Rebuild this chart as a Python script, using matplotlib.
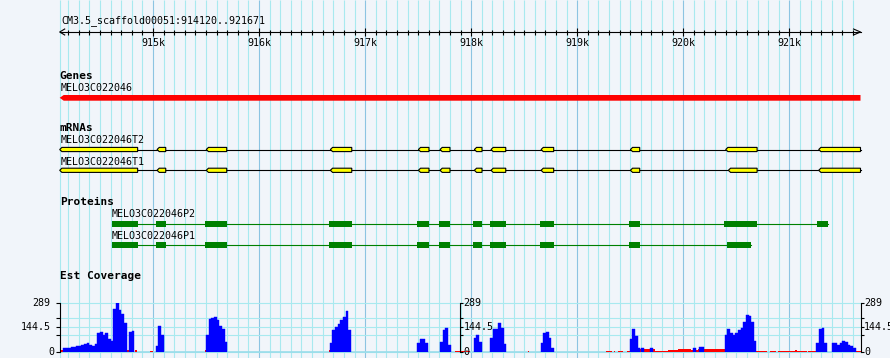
import numpy as np
import matplotlib.pyplot as plt
from matplotlib.patches import Polygon

# region shown on the ruler
seq_name = "CM3.5_scaffold00051"
region_start = 914120
region_end = 921671
ruler_labels = ["915k", "916k", "917k", "918k", "919k", "920k", "921k"]
ruler_kb = [915000, 916000, 917000, 918000, 919000, 920000, 921000]

gene_name = "MELO3C022046"

mrna_names = ["MELO3C022046T2", "MELO3C022046T1"]
t2_exons = [(914120, 914855), (915038, 915120), (915502, 915695), (916672, 916874),
            (917502, 917602), (917706, 917800), (918030, 918102), (918187, 918326),
            (918659, 918778), (919501, 919589), (920400, 920696), (921277, 921671)]
t1_exons = [(914120, 914855), (915038, 915120), (915502, 915695), (916672, 916874),
            (917502, 917602), (917706, 917800), (918030, 918102), (918187, 918326),
            (918659, 918778), (919501, 919589), (920425, 920696), (921277, 921671)]

protein_names = ["MELO3C022046P2", "MELO3C022046P1"]
p2_cds = [(914613, 914855), (915031, 915120), (915490, 915695), (916660, 916874),
          (917489, 917602), (917697, 917800), (918017, 918102), (918178, 918326),
          (918649, 918778), (919488, 919589), (920384, 920696), (921261, 921362)]
p1_cds = [(914613, 914855), (915031, 915120), (915490, 915695), (916660, 916874),
          (917489, 917602), (917697, 917800), (918017, 918102), (918178, 918326),
          (918649, 918778), (919488, 919589), (920413, 920635)]

# EST coverage, blue series in 25 bp bins (start of each run + bin values)
cov_max = 289
cov_bin = 25
est_starts = [914150, 915025, 915500, 916665, 917490, 917705, 918025, 918180,
              918655, 919495, 919600, 919685, 920095, 920150, 920390, 921255, 921400]
est_values = [
    [21, 21, 21, 29, 29, 33, 37, 43, 49, 55, 43, 37, 45, 113, 117, 98, 109, 78, 62,
     250, 285, 246, 225, 172, 0, 118, 125],
    [35, 150, 100],
    [100, 195, 200, 203, 185, 150, 135, 60],
    [50, 130, 148, 162, 185, 205, 240, 130],
    [55, 74, 76, 50],
    [60, 130, 140, 40],
    [80, 98, 60],
    [80, 133, 135, 172, 140, 45],
    [55, 109, 118, 83, 25],
    [74, 135, 95, 25],
    [23],
    [23],
    [23],
    [29, 29],
    [98, 137, 109, 102, 109, 129, 141, 176, 219, 211, 176, 64],
    [55, 133, 141, 55],
    [51, 55, 39, 51, 64, 57, 43, 37, 25],
]

# second (red) series, low level runs
red_starts = [914125, 914210, 914755, 914830, 914975, 915490, 916655, 917850, 917905,
              917955, 918175, 918535, 918770, 919270, 919350, 919385, 919465, 919590,
              919730, 919855, 919950, 920075, 920140, 920690, 920815, 920890, 921050,
              921070, 921175, 921615]
red_ends = [914155, 914225, 914775, 914850, 915000, 915505, 916670, 917900, 917940,
            917990, 918190, 918545, 918785, 919330, 919360, 919435, 919500, 919730,
            919855, 919950, 920075, 920140, 920390, 920790, 920875, 921050, 921070,
            921165, 921260, 921671]
red_values = [12, 12, 12, 12, 8, 12, 12, 5, 5, 5, 8, 5, 10, 6, 4, 6, 6, 18, 6, 12,
              18, 12, 16, 6, 6, 6, 12, 6, 6, 6]
cov_ticks = [0, 100, 144.5, 200, 289]
cov_labels = ["289", "144.5", "0"]

# colours
bg = "#F1F5FA"
grid_minor = "#A8E9EF"
grid_major = "#8CC4E2"
mono = "DejaVu Sans Mono"

W, H = 890, 358
LEFT_PX, RIGHT_PX = 59.7, 860.5
bp_px = (region_end - region_start) / (RIGHT_PX - LEFT_PX)
xmin = region_start - LEFT_PX * bp_px
xmax = xmin + W * bp_px

fig = plt.figure(figsize=(W / 100, H / 100), dpi=100)
fig.patch.set_facecolor(bg)
ax = fig.add_axes([0, 0, 1, 1])
ax.set_facecolor(bg)
ax.set_xlim(xmin, xmax)
ax.set_ylim(H, 0)
ax.axis('off')

# vertical grid
minor_pos = np.arange(914200, region_end, 100)
minor_pos = [p for p in minor_pos if p % 1000 != 0]
ax.vlines([region_start] + minor_pos, 0, H, color=grid_minor, lw=0.8, zorder=0)
ax.vlines(ruler_kb, 0, H, color=grid_major, lw=0.8, zorder=0)

# ruler
ax.text(region_start + 1.5 * bp_px, 21, "%s:%d..%d" % (seq_name, region_start, region_end),
        fontsize=7.2, family=mono, va='center', ha='left')
ax.plot([region_start, region_end], [32, 32], color='black', lw=0.8)
ax.vlines(minor_pos, 30, 34.5, color='black', lw=0.8)
ax.vlines(ruler_kb, 28.3, 36, color='black', lw=0.8)
ax.plot([region_start + 5 * bp_px, region_start, region_start + 5 * bp_px], [29, 32, 35],
        color='black', lw=0.8)
ax.plot([region_end - 7 * bp_px, region_end, region_end - 7 * bp_px], [29, 32, 35],
        color='black', lw=0.8)
for p, lab in zip(ruler_kb, ruler_labels):
    ax.text(p, 43, lab, fontsize=7.2, family=mono, ha='center', va='center')

# track titles
for ypx, title in [(76, "Genes"), (128, "mRNAs"), (202, "Proteins"), (276, "Est Coverage")]:
    ax.text(region_start, ypx, title, fontsize=8, family=mono, weight='bold', va='center')

# gene
ax.text(region_start + 1.2 * bp_px, 88, gene_name, fontsize=7.2, family=mono, va='center')
tip = 4 * bp_px
ax.add_patch(Polygon([(region_start, 97.8), (region_start + tip, 95), (region_end, 95),
                      (region_end, 100.7), (region_start + tip, 100.7)],
                     closed=True, fc='#FF0000', ec='none', zorder=3))


def draw_mrna(exons, name, yc, ylab):
    ax.text(region_start + 1.2 * bp_px, ylab, name, fontsize=7.2, family=mono, va='center')
    ax.plot([exons[0][0], exons[-1][1]], [yc, yc], color='black', lw=0.8, zorder=2)
    h = 4.2
    t = 2.2 * bp_px
    for s, e in exons:
        pts = [(s, yc), (s + t, yc - h / 2), (e, yc - h / 2), (e, yc + h / 2), (s + t, yc + h / 2)]
        ax.add_patch(Polygon(pts, closed=True, fc='#FFFF00', ec='black', lw=0.8, zorder=3))


def draw_protein(cds, name, yc, ylab):
    ax.text(cds[0][0], ylab, name, fontsize=7.2, family=mono, va='center')
    ax.plot([cds[0][0], cds[-1][1]], [yc, yc], color='#008000', lw=0.8, zorder=2)
    for s, e in cds:
        ax.add_patch(plt.Rectangle((s, yc - 2.9), e - s, 5.8, fc='#008000', ec='none', zorder=3))


draw_mrna(t2_exons, mrna_names[0], 149.5, 140)
draw_mrna(t1_exons, mrna_names[1], 170.3, 161.7)
draw_protein(p2_cds, protein_names[0], 223.8, 214.3)
draw_protein(p1_cds, protein_names[1], 244.8, 236)

# coverage panel
top_px, base_px = 302.7, 352.0
ax2 = fig.add_axes([0, (H - base_px) / H, 1, (base_px - top_px) / H])
ax2.set_xlim(xmin, xmax)
ax2.set_ylim(0, cov_max)
ax2.axis('off')
ax2.patch.set_alpha(0)

ax2.hlines(cov_ticks, region_start, region_end, color=grid_minor, lw=0.8, zorder=0, clip_on=False)
ax2.hlines([0], region_start, region_end, color='#9ADCEA', lw=1.2, zorder=0, clip_on=False)

r_starts = np.array(red_starts)
r_w = np.array(red_ends) - r_starts
ax2.bar(r_starts, red_values, width=r_w, align='edge', color='#FF0000', lw=0, zorder=2)

for s, vals in zip(est_starts, est_values):
    xs = s + cov_bin * np.arange(len(vals))
    ax2.bar(xs, vals, width=cov_bin, align='edge', color='#0000FF',
            edgecolor='#0000FF', lw=0.3, zorder=3)

mid = (region_start + region_end) / 2
tick_len = 3.3 * bp_px
label_vals = [289, 144.5, 0]
for xa, side in [(region_start, -1), (mid, 1), (region_end, 1)]:
    ax2.plot([xa, xa], [0, cov_max], color='black', lw=0.8, clip_on=False, zorder=4)
    ax2.hlines(cov_ticks, xa, xa + side * tick_len, color='black', lw=0.8, clip_on=False, zorder=4)
    for v, lab in zip(label_vals, cov_labels):
        if side < 0:
            off = 5 if v == 0 else 9.3
            ax2.text(xa - off * bp_px, v, lab, fontsize=7.2, family=mono, ha='right',
                     va='center', clip_on=False)
        else:
            ax2.text(xa + 3.5 * bp_px, v, lab, fontsize=7.2, family=mono, ha='left',
                     va='center', clip_on=False)

fig.savefig("out.png", dpi=100, facecolor=bg)
